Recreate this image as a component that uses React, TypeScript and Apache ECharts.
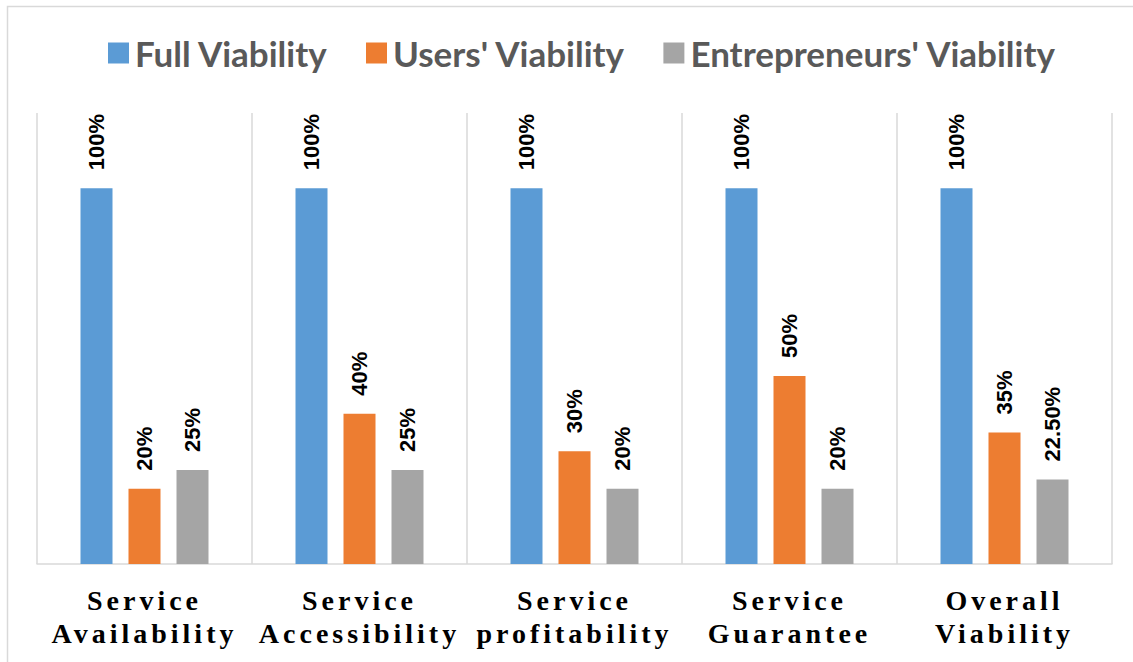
import React, { useEffect, useRef } from "react";
import * as echarts from "echarts";

const categories = [
  "Service\nAvailability",
  "Service\nAccessibility",
  "Service\nprofitability",
  "Service\nGuarantee",
  "Overall\nViability",
];
const seriesNames = ["Full Viability", "Users' Viability", "Entrepreneurs' Viability"];
const fullViability = [100, 100, 100, 100, 100];
const usersViability = [20, 40, 30, 50, 35];
const entrepreneursViability = [25, 25, 20, 20, 22.5];
const colors = ["#5B9BD5", "#ED7D31", "#A5A5A5"];

const fmt = (v: number) => (Number.isInteger(v) ? `${v}%` : `${v.toFixed(2)}%`);

export default function App() {
  const ref = useRef<HTMLDivElement>(null);
  useEffect(() => {
    if (!ref.current) return;
    const chart = echarts.init(ref.current, undefined, { renderer: "svg" });
    const dataSets = [fullViability, usersViability, entrepreneursViability];
    chart.setOption({
      animation: false,
      backgroundColor: "#ffffff",
      graphic: [
        {
          type: "rect",
          shape: { x: 7.5, y: 6.5, width: 1200, height: 700 },
          style: { fill: "none", stroke: "#d9d9d9", lineWidth: 1.5 },
          silent: true,
        },
      ],
      legend: {
        top: 28,
        left: 103,
        itemWidth: 21,
        itemHeight: 21,
        itemGap: 38,
        icon: "rect",
        textStyle: {
          fontFamily: "Lato",
          fontWeight: "bold",
          fontSize: 35,
          color: "#595959",
          padding: [0, 0, 0, 1],
          lineHeight: 40,
        },
        data: seriesNames,
      },
      grid: { left: 37, right: 21, top: 113, bottom: 98 },
      xAxis: {
        type: "category",
        data: categories,
        axisLine: { show: true, lineStyle: { color: "#d9d9d9", width: 1.5 } },
        axisTick: { show: false },
        splitLine: { show: true, lineStyle: { color: "#d9d9d9", width: 1.5 } },
        axisLabel: {
          fontFamily: "Liberation Serif",
          fontWeight: "bold",
          fontSize: 28,
          lineHeight: 33,
          color: "#000000",
          margin: 20,
          interval: 0,
        },
      },
      yAxis: {
        type: "value",
        min: 0,
        max: 120,
        show: false,
        splitLine: { show: false },
      },
      series: dataSets.map((d, i) => ({
        name: seriesNames[i],
        type: "bar",
        data: d,
        barWidth: 32,
        barGap: "50%",
        itemStyle: { color: colors[i] },
        label: {
          show: true,
          position: "top",
          rotate: 90,
          align: "left",
          verticalAlign: "middle",
          distance: 18,
          fontFamily: "Liberation Sans",
          fontWeight: "bold",
          fontSize: 22,
          color: "#000000",
          formatter: (p: any) => fmt(p.value),
        },
      })),
    });
    return () => chart.dispose();
  }, []);
  return (
    <>
      <style>{`#chartbox text[style*="Serif"]{letter-spacing:4px;}`}</style>
      <div
        id="chartbox"
        ref={ref}
        style={{ position: "absolute", left: 0, top: 0, width: 1133, height: 662 }}
      />
    </>
  );
}
